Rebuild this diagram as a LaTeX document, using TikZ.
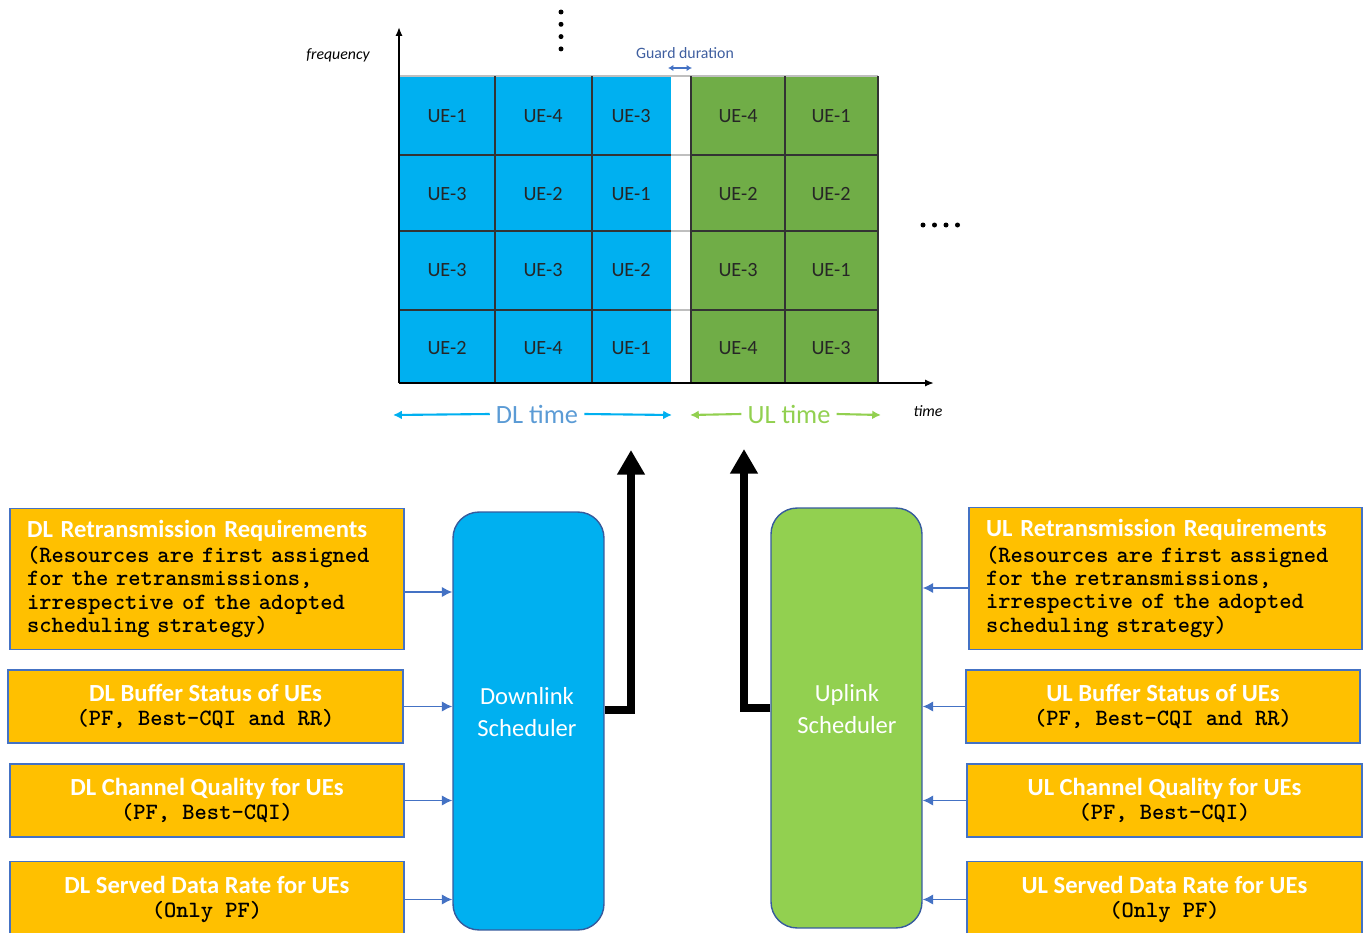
\documentclass[tikz,border=0pt]{standalone}
\usepackage{fontspec}
\setmainfont{Carlito}
\usetikzlibrary{arrows.meta}

\definecolor{dlblue}{HTML}{00B0F0}
\definecolor{ulgreen}{HTML}{70AD47}
\definecolor{schedgreen}{HTML}{92D050}
\definecolor{boxorange}{HTML}{FFC000}
\definecolor{edgeblue}{HTML}{4472C4}
\definecolor{labelblue}{HTML}{5B9BD5}
\definecolor{guardblue}{HTML}{3F5FA0}

\newcommand\boxtitle[1]{{\normalfont\fontsize{14}{13.3}\selectfont\bfseries\color{white}#1}}

\tikzset{
  gridline/.style={draw=black!80, line width=0.8pt},
  axis/.style={-{Latex[length=5pt,width=4pt]}, line width=1pt},
  axislabel/.style={font=\fontsize{9}{10}\selectfont\itshape},
  cell/.style={font=\fontsize{11.5}{13}\selectfont, text=black!85},
  timearrow/.style={-{Latex[length=5pt,width=5pt]}, line width=1.2pt},
  infobox/.style={draw=edgeblue, line width=0.8pt, fill=boxorange, inner sep=0pt,
    align=center, font=\ttfamily\bfseries\fontsize{13.3}{13.3}\selectfont},
  feed/.style={edgeblue, line width=0.9pt, -{Latex[length=6pt,width=6pt]}},
  sched/.style={draw=edgeblue!80!black, line width=0.8pt, rounded corners=0.52cm,
    minimum width=3.02cm, inner sep=0pt},
  schedtext/.style={text=white, font=\fontsize{14}{18.2}\selectfont, align=center},
  outarrow/.style={line width=4.5pt, line join=miter, -{Triangle[length=14pt,width=15pt]}}
}

\begin{document}
\begin{tikzpicture}[x=0.02cm, y=-0.02cm]
\clip (0,0) rectangle (1363,933);

% resource grid
\fill[dlblue] (399,76) rectangle (671,383);
\fill[ulgreen] (691,76) rectangle (878,383);
\draw[gray!50, line width=0.8pt] (399,76) -- (878,76);
\foreach \y in {155,231,310} {
  \draw[gray!50, line width=0.8pt] (671,\y) -- (691,\y);
  \draw[gridline] (399,\y) -- (671,\y);
  \draw[gridline] (691,\y) -- (878,\y);
}
\foreach \x in {495,592,691,785,878}
  \draw[gridline] (\x,76) -- (\x,383);

\foreach \r/\y/\a/\b/\c/\d/\e in {1/116/1/4/3/4/1, 2/194/3/2/1/2/2, 3/270/3/3/2/3/1, 4/348/2/4/1/4/3} {
  \node[cell] (dla\r) at (447,\y) {UE-\a};
  \node[cell] (dlb\r) at (543,\y) {UE-\b};
  \node[cell] (dlc\r) at (631,\y) {UE-\c};
  \node[cell] (ula\r) at (738,\y) {UE-\d};
  \node[cell] (ulb\r) at (831,\y) {UE-\e};
}

% axes
\coordinate (origin) at (399,383);
\coordinate (fmax) at (399,27);
\coordinate (tmax) at (934,383);
\draw[axis] (origin) -- (fmax);
\draw[axis] (origin) -- (tmax);
\node[axislabel] (freq) at (338,55) {frequency};
\node[axislabel] (timelbl) at (928,411) {time};

% guard
\node[font=\fontsize{9}{10}\selectfont, text=guardblue] (guard) at (685,53) {Guard duration};
\coordinate (gl) at (668,68);
\coordinate (gr) at (692,68);
\draw[edgeblue, line width=0.8pt, {Latex[length=3pt,width=3.5pt]}-{Latex[length=3pt,width=3.5pt]}] (gl) -- (gr);

% dots
\foreach \k in {0,...,3} {
  \fill (561,12+12.3*\k) circle (0.05cm);
  \fill (923+11.5*\k,225) circle (0.05cm);
}

% DL / UL time
\node[font=\fontsize{15}{17}\selectfont, text=labelblue] (dltime) at (537,414) {DL time};
\coordinate (dlbeg) at (393,415);
\coordinate (dlend) at (672,415);
\draw[timearrow, dlblue] (dltime.west) -- (dlbeg);
\draw[timearrow, dlblue] (dltime.east) -- (dlend);
\node[font=\fontsize{15}{17}\selectfont, text=schedgreen] (ultime) at (789,414) {UL time};
\coordinate (ulbeg) at (690,415);
\coordinate (ulend) at (881,415);
\draw[timearrow, schedgreen] (ultime.west) -- (ulbeg);
\draw[timearrow, schedgreen] (ultime.east) -- (ulend);

% schedulers
\node[sched, fill=dlblue, minimum height=8.36cm] (dlsched) at (528.5,721) {};
\node[schedtext] (dlname) at (527,712) {Downlink\\Scheduler};
\node[sched, fill=schedgreen, minimum height=8.40cm] (ulsched) at (846.5,718) {};
\node[schedtext] (ulname) at (847,709) {Uplink\\Scheduler};

\coordinate (dlout) at (631,450);
\coordinate (ulout) at (744,449);
\draw[outarrow] ([yshift=0.22cm]dlsched.east) -| (dlout);
\draw[outarrow] ([yshift=0.2cm]ulsched.west) -| (ulout);

% DL inputs
\node[infobox, minimum width=7.88cm, minimum height=2.82cm, align=left, text width=7.2cm] (dlretx) at (207,579)
  {\boxtitle{DL Retransmission Requirements}\\[1pt](Resources are first assigned\\for the retransmissions,\\irrespective of the adopted\\scheduling strategy)};
\node[infobox, minimum width=7.90cm, minimum height=1.46cm] (dlbuf) at (205.5,706.5)
  {\boxtitle{DL Buffer Status of UEs}\\(PF, Best-CQI and RR)};
\node[infobox, minimum width=7.88cm, minimum height=1.46cm] (dlcqi) at (207,800.5)
  {\boxtitle{DL Channel Quality for UEs}\\(PF, Best-CQI)};
\node[infobox, minimum width=7.88cm, minimum height=1.52cm] (dlrate) at (207,899.5)
  {\boxtitle{DL Served Data Rate for UEs}\\(Only PF)};

% UL inputs
\node[infobox, minimum width=7.86cm, minimum height=2.84cm, align=left, text width=7.18cm] (ulretx) at (1165.5,578.5)
  {\boxtitle{UL Retransmission Requirements}\\[1pt](Resources are first assigned\\for the retransmissions,\\irrespective of the adopted\\scheduling strategy)};
\node[infobox, minimum width=7.88cm, minimum height=1.46cm] (ulbuf) at (1163,706.5)
  {\boxtitle{UL Buffer Status of UEs}\\(PF, Best-CQI and RR)};
\node[infobox, minimum width=7.90cm, minimum height=1.46cm] (ulcqi) at (1164.5,800.5)
  {\boxtitle{UL Channel Quality for UEs}\\(PF, Best-CQI)};
\node[infobox, minimum width=7.90cm, minimum height=1.52cm] (ulrate) at (1164.5,899.5)
  {\boxtitle{UL Served Data Rate for UEs}\\(Only PF)};

% feeds into the schedulers
\coordinate (dlretxout) at ([yshift=-0.26cm]dlretx.east);
\coordinate (ulretxout) at ([yshift=-0.19cm]ulretx.west);
\draw[feed] (dlretxout) -- (dlretxout -| dlsched.west);
\draw[feed] (ulretxout) -- (ulretxout -| ulsched.east);
\foreach \n in {buf,cqi,rate} {
  \draw[feed] (dl\n.east) -- (dl\n.east -| dlsched.west);
  \draw[feed] (ul\n.west) -- (ul\n.west -| ulsched.east);
}
\end{tikzpicture}
\end{document}
